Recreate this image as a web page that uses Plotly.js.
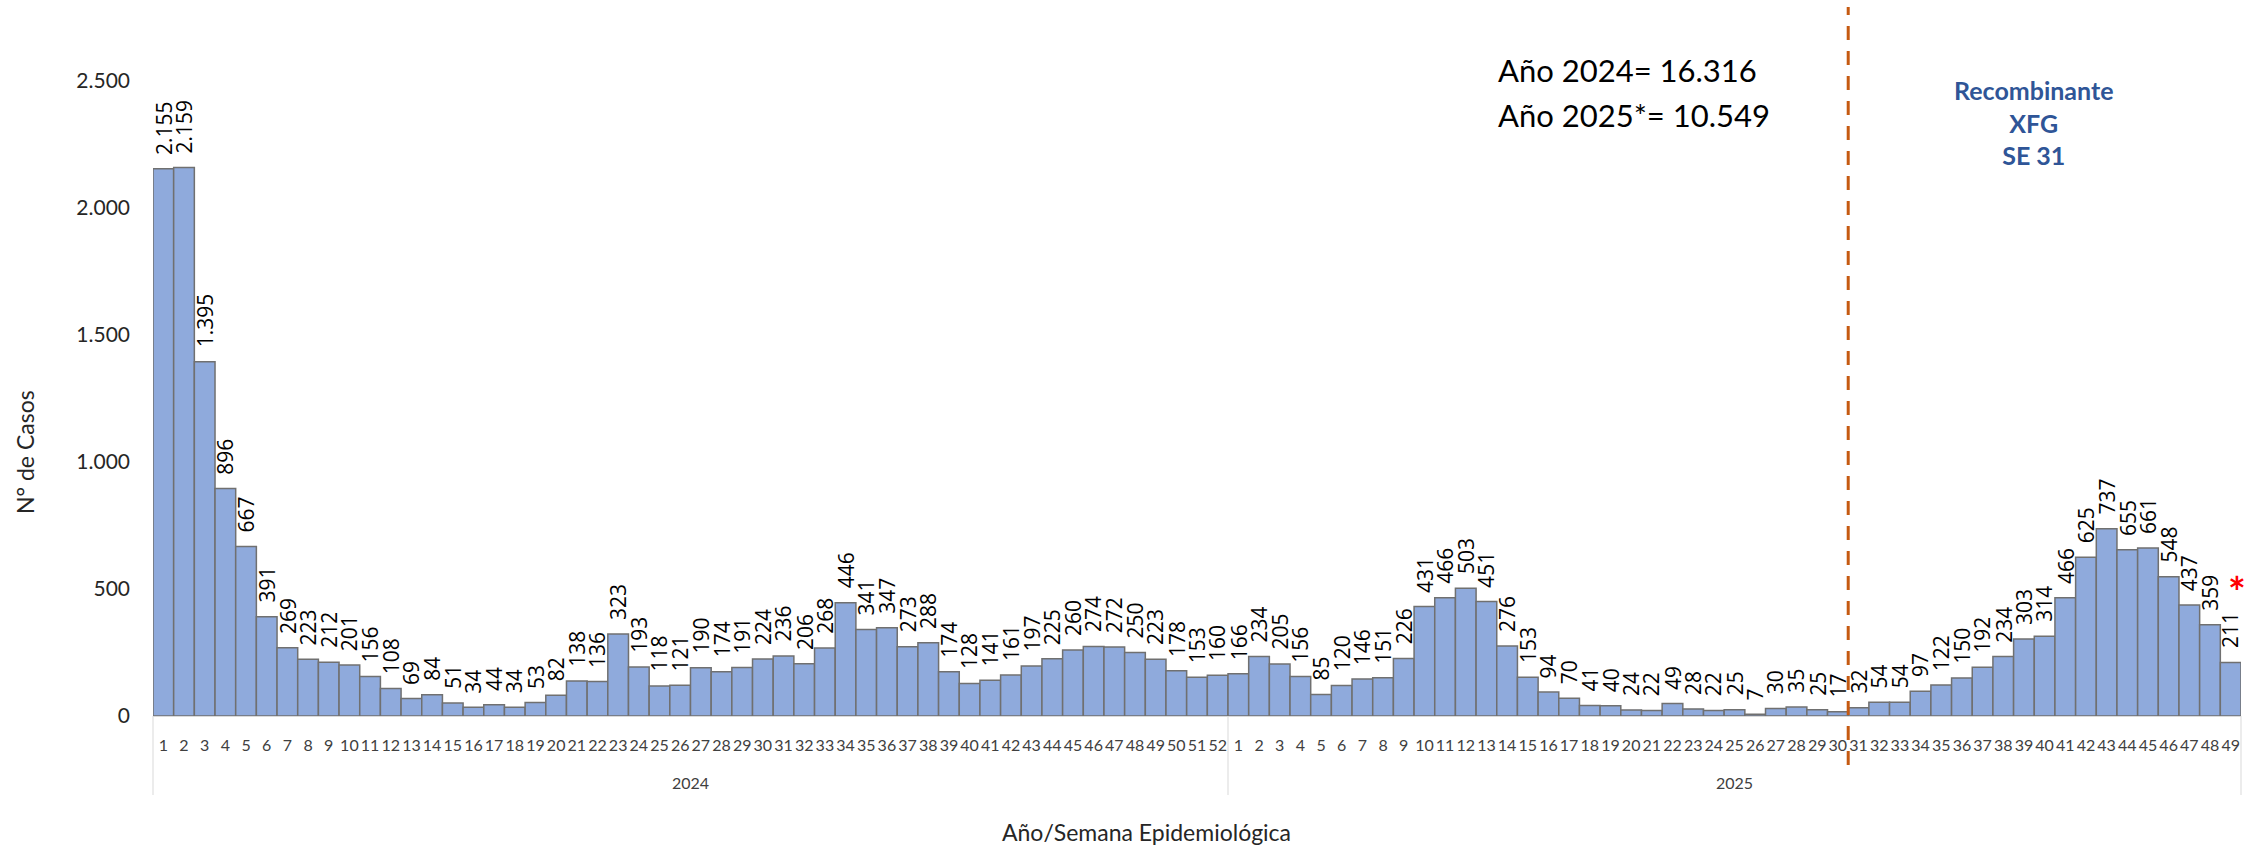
<!DOCTYPE html>
<html><head><meta charset="utf-8">
<script src="https://cdn.plot.ly/plotly-3.0.1.min.js"></script>
<style>html,body{margin:0;padding:0;background:#fff}#chart{width:2256px;height:849px}</style>
</head><body><div id="chart"></div>
<script>
// ---- data ----
const years = ['2024', '2025'];
const weeks2024 = [1,2,3,4,5,6,7,8,9,10,11,12,13,14,15,16,17,18,19,20,21,22,23,24,25,26,27,28,29,30,31,32,33,34,35,36,37,38,39,40,41,42,43,44,45,46,47,48,49,50,51,52];
const cases2024 = [2155,2159,1395,896,667,391,269,223,212,201,156,108,69,84,51,34,44,34,53,82,138,136,323,193,118,121,190,174,191,224,236,206,268,446,341,347,273,288,174,128,141,161,197,225,260,274,272,250,223,178,153,160];
const weeks2025 = [1,2,3,4,5,6,7,8,9,10,11,12,13,14,15,16,17,18,19,20,21,22,23,24,25,26,27,28,29,30,31,32,33,34,35,36,37,38,39,40,41,42,43,44,45,46,47,48,49];
const cases2025 = [166,234,205,156,85,120,146,151,226,431,466,503,451,276,153,94,70,41,40,24,22,49,28,22,25,7,30,35,25,17,32,54,54,97,122,150,192,234,303,314,466,625,737,655,661,548,437,359,211];
const yTicks = [0, 500, 1000, 1500, 2000, 2500];
const summaryLines = ['Año 2024= 16.316', 'Año 2025*= 10.549'];
const variantLines = ['Recombinante', 'XFG', 'SE 31'];
const variantYear = '2025', variantWeek = 31;
const yTitle = 'N° de Casos';
const xTitle = 'Año/Semana Epidemiológica';

// ---- build ----
const groups = [[years[0], weeks2024, cases2024], [years[1], weeks2025, cases2025]];
const xIdx = [], xWeek = [], xYear = [], yVal = [];
const groupStart = [], groupEnd = [];
groups.forEach(([yr, wk, cs]) => {
  groupStart.push(yVal.length);
  wk.forEach((w, i) => { xIdx.push(yVal.length); xWeek.push(String(w)); xYear.push(yr); yVal.push(cs[i]); });
  groupEnd.push(yVal.length - 1);
});
const N = yVal.length;
const fmt = v => String(v).replace(/\B(?=(\d{3})+(?!\d))/g, '.');

const W = 2256, H = 849;
const L = 153, R = 15, T = 81, B = 133;
const pw = W - L - R, ph = H - T - B;
const px = p => (p - L) / pw;       // pixel -> paper x
const py = p => (H - B - p) / ph;   // pixel -> paper y

const trace = {
  type: 'bar',
  x: xIdx,
  y: yVal,
  customdata: xYear,
  marker: { color: '#8FAADC', line: { color: '#707070', width: 1.5 } },
  hovertemplate: '%{customdata} SE %{x}: %{y}<extra></extra>'
};

const textFont = 'Lato, sans-serif';

// value labels above bars
const annotations = yVal.map((v, i) => ({
  x: xIdx[i], y: v, xref: 'x', yref: 'y',
  text: fmt(v), showarrow: false, textangle: -90,
  xanchor: 'center', yanchor: 'bottom', yshift: 12,
  font: { family: 'Open Sans, sans-serif', size: 21, color: '#000' }
}));

// year (second-level) labels
groups.forEach(([yr], g) => {
  annotations.push({
    x: (groupStart[g] + groupEnd[g]) / 2, xref: 'x', y: py(783), yref: 'paper',
    text: yr, showarrow: false, xanchor: 'center', yanchor: 'middle',
    font: { family: textFont, size: 16, color: '#404040' }
  });
});

annotations.push(
  { xref: 'paper', yref: 'paper', x: px(1496), y: py(70), xanchor: 'left', yanchor: 'middle', showarrow: false,
    text: summaryLines[0], font: { family: textFont, size: 31, color: '#000' } },
  { xref: 'paper', yref: 'paper', x: px(1496), y: py(115), xanchor: 'left', yanchor: 'middle', showarrow: false,
    text: summaryLines[1], font: { family: textFont, size: 31, color: '#000' } },
  { xref: 'paper', yref: 'paper', x: px(2034), y: py(122), xanchor: 'center', yanchor: 'middle', showarrow: false,
    text: '<b>' + variantLines.join('<br>') + '</b>', align: 'center',
    font: { family: textFont, size: 25, color: '#2F5597' } },
  { xref: 'paper', yref: 'paper', x: px(25), y: py(452), xanchor: 'center', yanchor: 'middle', showarrow: false,
    text: yTitle, textangle: -90, font: { family: textFont, size: 23, color: '#262626' } },
  { xref: 'paper', yref: 'paper', x: px(1146), y: py(832), xanchor: 'center', yanchor: 'middle', showarrow: false,
    text: xTitle, font: { family: textFont, size: 23, color: '#262626' } },
  { xref: 'paper', yref: 'paper', x: px(2237), y: py(592), xanchor: 'center', yanchor: 'middle', showarrow: false,
    text: '<b>*</b>', font: { family: textFont, size: 42, color: '#FF0000' } }
);

// group dividers below the axis
const shapes = [];
const bounds = [groupStart[0]].concat(groupEnd.map(e => e + 1));
bounds.forEach(b => {
  shapes.push({ type: 'line', xref: 'paper', yref: 'paper', x0: b / N, x1: b / N, y0: 0, y1: py(795),
    line: { color: '#D9D9D9', width: 1 } });
});

// dashed line before the variant week
let vIdx = 0;
for (let i = 0; i < N; i++) if (xYear[i] === variantYear && xWeek[i] === String(variantWeek)) vIdx = i;
shapes.push({
  type: 'line', xref: 'paper', yref: 'paper',
  x0: vIdx / N, x1: vIdx / N, y0: py(765), y1: py(7),
  line: { color: '#C55A11', width: 3, dash: '14px,11px' }
});

const layout = {
  width: W, height: H,
  margin: { l: L, r: R, t: T, b: B, pad: 0 },
  paper_bgcolor: '#fff', plot_bgcolor: '#fff',
  separators: ',.',
  showlegend: false,
  bargap: 0,
  font: { family: textFont, color: '#404040' },
  xaxis: {
    type: 'linear', range: [-0.5, N - 0.5],
    tickmode: 'array', tickvals: xIdx, ticktext: xWeek,
    tickangle: 0,
    tickfont: { family: textFont, size: 16, color: '#404040' },
    showline: true, linecolor: '#D9D9D9', linewidth: 1,
    showgrid: false, zeroline: false, ticks: '',
    ticklabelstandoff: 15
  },
  yaxis: {
    range: [0, 2500], tickvals: yTicks, tickformat: ',d',
    showgrid: false, zeroline: false, showline: false, ticks: '',
    tickfont: { family: textFont, size: 21, color: '#262626' },
    ticklabelstandoff: 22
  },
  shapes: shapes,
  annotations: annotations
};

Plotly.newPlot('chart', [trace], layout, { displayModeBar: false, staticPlot: true });
</script>
</body></html>
